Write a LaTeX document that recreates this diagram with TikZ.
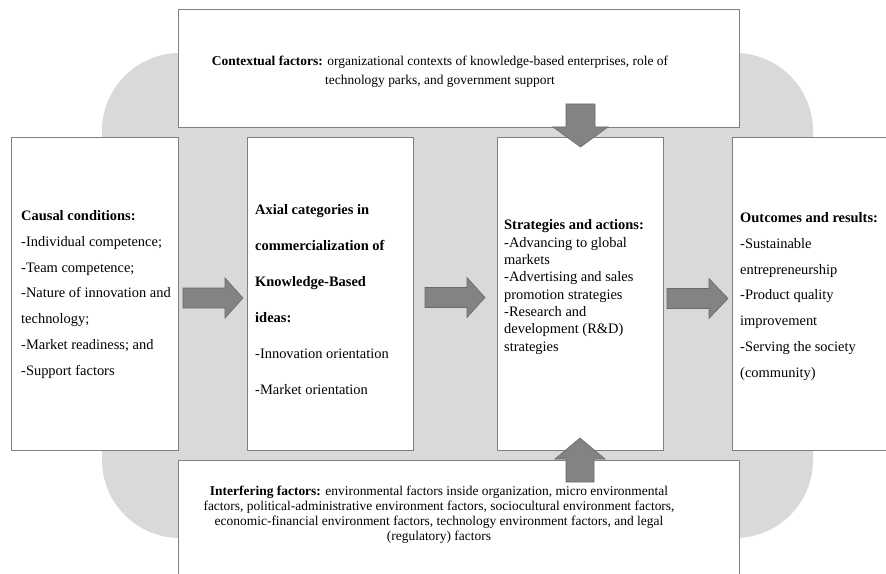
\documentclass[tikz,border=0pt]{standalone}
\usepackage{fontspec}
\setmainfont{Liberation Serif}
\definecolor{bggrey}{HTML}{D9D9D9}
\definecolor{boxline}{HTML}{7F7F7F}
\definecolor{arrowfill}{HTML}{838383}
\definecolor{arrowline}{HTML}{6A6A6A}
\begin{document}
\begin{tikzpicture}[x=1bp,y=-1bp,
  panel/.style={draw=boxline, line width=1bp, fill=white, inner sep=0pt, anchor=north west},
  bodytext/.style={inner sep=0pt, align=left, anchor=west},
  sidetext/.style={inner sep=0pt, align=center, anchor=center},
  blockarrow/.style={fill=arrowfill, draw=arrowline, line width=0.6bp}]
\useasboundingbox (0,0) rectangle (886,574);
\fill[bggrey, rounded corners=78bp] (102,53) rectangle (813,538);
% boxes
\node[panel, minimum width=561bp, minimum height=118bp] (topbox) at (178,9) {};
\node[panel, minimum width=167bp, minimum height=313bp] (causal) at (11,137) {};
\node[panel, minimum width=166bp, minimum height=313bp] (axial) at (247,137) {};
\node[panel, minimum width=166bp, minimum height=313bp] (strat) at (497,137) {};
\node[panel, minimum width=160bp, minimum height=313bp] (outc) at (732,137) {};
\node[panel, minimum width=561bp, minimum height=120bp] (botbox) at (178,460) {};
% texts
\node[sidetext, font=\fontsize{13.5}{19}\selectfont] (toptext) at (440,71.5)
 {{\bfseries Contextual factors:} organizational contexts of knowledge-based enterprises, role of\\
  technology parks, and government support};
\node[sidetext, font=\fontsize{13.5}{15.2}\selectfont] (bottext) at (439,514.5)
 {{\bfseries Interfering factors:} environmental factors inside organization, micro environmental\\
  factors, political-administrative environment factors, sociocultural environment factors,\\
  economic-financial environment factors, technology environment factors, and legal\\
  (regulatory) factors};
\node[bodytext, font=\fontsize{14.5}{26}\selectfont] (causaltext) at (21,294.5)
 {\textbf{Causal conditions:}\\-Individual competence;\\-Team competence;\\-Nature of innovation and\\technology;\\-Market readiness; and\\-Support factors};
\node[bodytext, font=\fontsize{14.5}{36.2}\selectfont] (axialtext) at (255,299.5)
 {\textbf{Axial categories in}\\\textbf{commercialization of}\\\textbf{Knowledge-Based}\\\textbf{ideas:}\\-Innovation orientation\\-Market orientation};
\node[bodytext, font=\fontsize{14.5}{17.4}\selectfont] (strattext) at (504,287)
 {\textbf{Strategies and actions:}\\-Advancing to global\\markets\\-Advertising and sales\\promotion strategies\\-Research and\\development (R\&D)\\strategies};
\node[bodytext, font=\fontsize{14.5}{26}\selectfont] (outctext) at (740,296.5)
 {\textbf{Outcomes and results:}\\-Sustainable\\entrepreneurship\\-Product quality\\improvement\\-Serving the society\\(community)};
% block arrows
\draw[blockarrow] (183,288) -- (225,288) -- (225,278) -- (243,298) -- (225,318) -- (225,308) -- (183,308) -- cycle;
\draw[blockarrow] (425,287.5) -- (467,287.5) -- (467,277.5) -- (485,297.5) -- (467,317.5) -- (467,307.5) -- (425,307.5) -- cycle;
\draw[blockarrow] (667,288.5) -- (709,288.5) -- (709,278.5) -- (728,298.5) -- (709,318.5) -- (709,308.5) -- (667,308.5) -- cycle;
\draw[blockarrow] (566,104) -- (595,104) -- (595,127) -- (608,127) -- (580.5,147) -- (553,127) -- (566,127) -- cycle;
\draw[blockarrow] (566,482) -- (594,482) -- (594,459) -- (605,459) -- (580,438) -- (555,459) -- (566,459) -- cycle;
\end{tikzpicture}
\end{document}
